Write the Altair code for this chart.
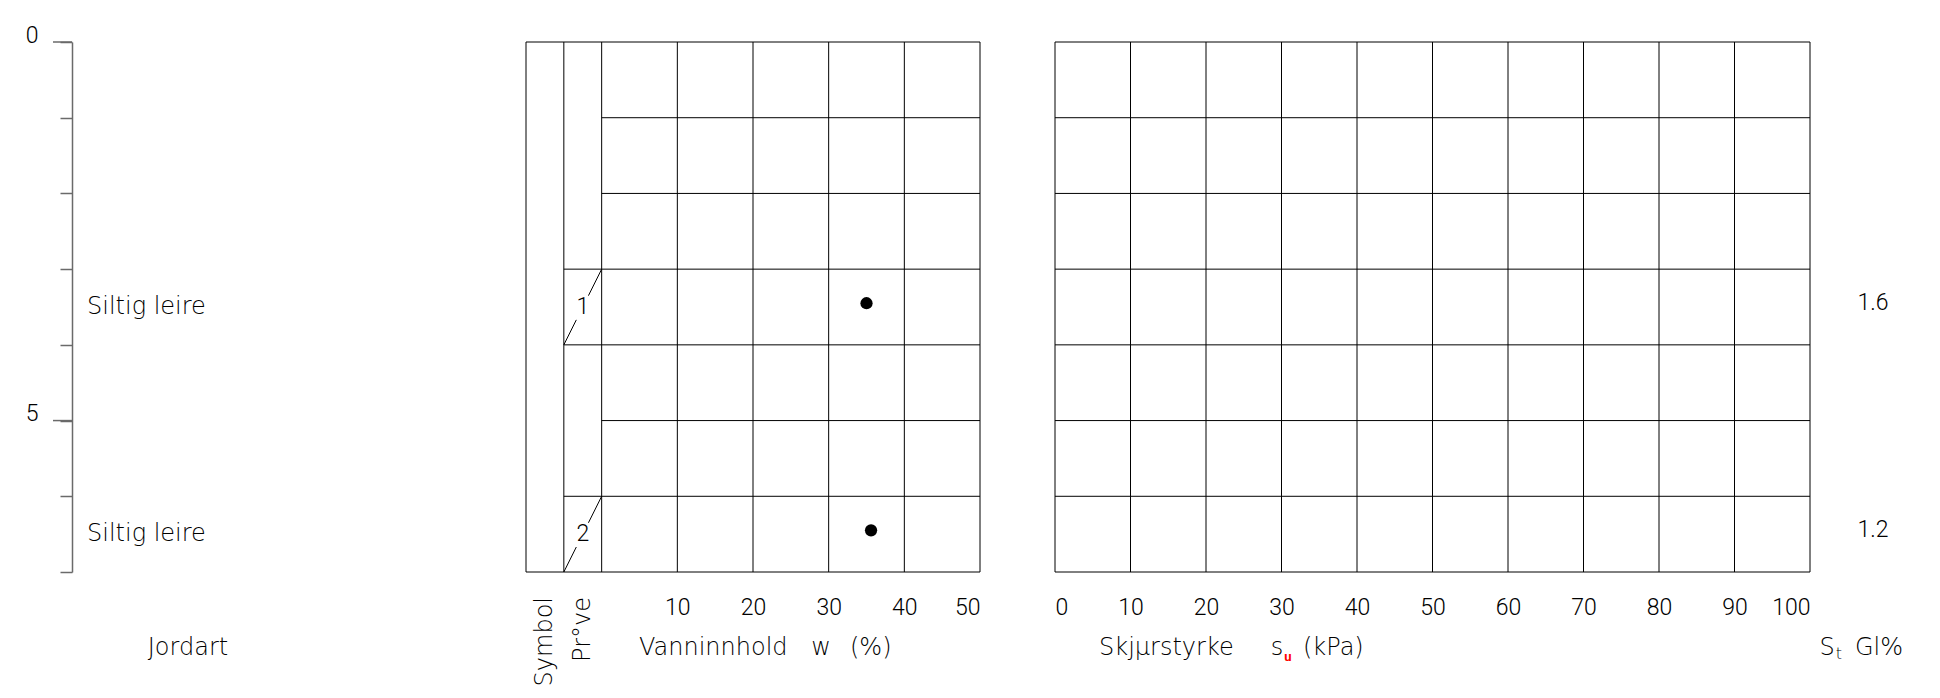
import altair as alt
import pandas as pd

# ---------------- data ----------------
depth_min, depth_max = 0, 7
depth_ticks = [0, 1, 2, 3, 4, 5, 6, 7]
depth_major = [0, 5]

soil_depth = [3.5, 6.5]
soil_names = ["Siltig leire", "Siltig leire"]

w_grid_x = [-10, -5, 0, 10, 20, 30, 40, 50]
w_tick_values = [10, 20, 30, 40, 50]
w_row_depth = [0, 1, 2, 3, 4, 5, 6, 7]
w_row_start = [-10, 0, 0, -5, -5, 0, -5, -10]
w_row_end = [50, 50, 50, 50, 50, 50, 50, 50]
column_names = ["Symbol", "Pr°ve"]
column_left = [-10, -5]
column_right = [-5, 0]

sample_no = ["1", "2"]
sample_top = [3, 6]
sample_bottom = [4, 7]
sample_depth = [3.45, 6.45]
water_content = [35.0, 35.6]
sensitivity = ["1.6", "1.2"]

su_grid_x = [0, 10, 20, 30, 40, 50, 60, 70, 80, 90, 100]
su_tick_values = [0, 10, 20, 30, 40, 50, 60, 70, 80, 90, 100]
su_row_depth = [0, 1, 2, 3, 4, 5, 6, 7]

# ---------------- style / layout ----------------
FONT = "Roboto"
TFONT = "DejaVu Sans"
FS = 23
TFS = 24
TXT = "#000000"
AX = "#6a6a6a"
LINE = "#000000"
W1, W2, W3, H, GAP = 379, 454, 755, 530, 75
TITLE_Y = H + 76

ys = alt.Scale(domain=[depth_min, depth_max], reverse=True, nice=False, zero=False)


def label(text, x, y, **kw):
    return alt.Chart(pd.DataFrame({"t": [text]})).mark_text(**kw).encode(
        x=alt.value(x), y=alt.value(y), text="t:N"
    )


# ---------------- panel 1: depth axis + soil ----------------
depth_axis = alt.Axis(
    values=depth_ticks, title=None, grid=False,
    domainColor=AX, domainWidth=1.5, tickColor=AX, tickWidth=1.5, tickSize=12,
    labelExpr="datum.value % 5 === 0 ? datum.label : ''",
    labelAlign="right", labelBaseline="alphabetic", labelPadding=22,
    labelFontSize=FS,
)
major_df = pd.DataFrame({"depth": depth_major})
soil_df = pd.DataFrame({"depth": soil_depth, "name": soil_names})

p1_major = alt.Chart(major_df).mark_rule(color=AX, strokeWidth=1.5).encode(
    x=alt.value(-19), x2=alt.value(0),
    y=alt.Y("depth:Q", scale=ys, axis=depth_axis),
)
p1_soil = alt.Chart(soil_df).mark_text(align="left", baseline="middle").encode(
    x=alt.value(15),
    y=alt.Y("depth:Q", scale=ys, axis=depth_axis),
    text="name:N",
)
panel1 = alt.layer(
    p1_major, p1_soil,
    label("Jordart", 116, TITLE_Y, align="center", baseline="middle"),
).properties(width=W1, height=H)

# ---------------- panel 2: water content ----------------
xs_w = alt.Scale(domain=[-10, 50], nice=False, zero=False)
axis_w = alt.Axis(values=w_tick_values, title=None, ticks=False, tickSize=0,
                  domain=False, grid=False, labelPadding=24, labelFontSize=FS)


def xw():
    return alt.X("x:Q", scale=xs_w, axis=axis_w)


wv_df = pd.DataFrame({"x": w_grid_x, "top": depth_min, "bottom": depth_max})
wh_df = pd.DataFrame({"x": w_row_start, "x2": w_row_end, "depth": w_row_depth})

seg_rows = []
for no, top, bot in zip(sample_no, sample_top, sample_bottom):
    x0, x1 = column_left[1], column_right[1]
    for t0, t1 in [(0.0, 0.33), (0.65, 1.0)]:
        seg_rows.append({
            "x": x0 + (x1 - x0) * t0, "x2": x0 + (x1 - x0) * t1,
            "y": bot - (bot - top) * t0, "y2": bot - (bot - top) * t1,
        })
seg_df = pd.DataFrame(seg_rows)
snum_df = pd.DataFrame({
    "x": [(column_left[1] + column_right[1]) / 2] * len(sample_no),
    "depth": [(a + b) / 2 for a, b in zip(sample_top, sample_bottom)],
    "no": sample_no,
})
pts_df = pd.DataFrame({"x": water_content, "depth": sample_depth})
col_df = pd.DataFrame({
    "x": [(a + b) / 2 for a, b in zip(column_left, column_right)],
    "name": column_names,
})

p2_v = alt.Chart(wv_df).mark_rule(color=LINE, strokeWidth=1).encode(
    x=xw(), y=alt.Y("top:Q", scale=ys, axis=None), y2="bottom:Q")
p2_h = alt.Chart(wh_df).mark_rule(color=LINE, strokeWidth=1).encode(
    x=xw(), x2="x2:Q", y=alt.Y("depth:Q", scale=ys, axis=None))
p2_seg = alt.Chart(seg_df).mark_rule(color=LINE, strokeWidth=1).encode(
    x=xw(), x2="x2:Q", y=alt.Y("y:Q", scale=ys, axis=None), y2="y2:Q")
p2_num = alt.Chart(snum_df).mark_text(align="center", baseline="middle", font=FONT,
                                      fontSize=FS, fontWeight=300).encode(
    x=xw(), y=alt.Y("depth:Q", scale=ys, axis=None), text="no:N")
p2_pts = alt.Chart(pts_df).mark_circle(size=150, color="#000000", opacity=1).encode(
    x=xw(), y=alt.Y("depth:Q", scale=ys, axis=None))
p2_cols = alt.Chart(col_df).mark_text(angle=270, align="right", baseline="middle").encode(
    x=xw(), y=alt.value(H + 25), text="name:N")

panel2 = alt.layer(
    p2_v, p2_h, p2_seg, p2_num, p2_pts, p2_cols,
    label("Vanninnhold", 113, TITLE_Y, align="left", baseline="middle"),
    label("w", 295, TITLE_Y, align="center", baseline="middle"),
    label("(%)", 324, TITLE_Y, align="left", baseline="middle"),
).properties(width=W2, height=H)

# ---------------- panel 3: shear strength ----------------
xs_s = alt.Scale(domain=[0, 100], nice=False, zero=False)
axis_s = alt.Axis(values=su_tick_values, title=None, ticks=False, tickSize=0,
                  domain=False, grid=False, labelPadding=24, labelFontSize=FS)


def xsu():
    return alt.X("x:Q", scale=xs_s, axis=axis_s)


sv_df = pd.DataFrame({"x": su_grid_x, "top": depth_min, "bottom": depth_max})
sh_df = pd.DataFrame({"x": su_grid_x[0], "x2": su_grid_x[-1], "depth": su_row_depth})
st_df = pd.DataFrame({"depth": sample_depth, "st": sensitivity})

p3_v = alt.Chart(sv_df).mark_rule(color=LINE, strokeWidth=1).encode(
    x=xsu(), y=alt.Y("top:Q", scale=ys, axis=None), y2="bottom:Q")
p3_h = alt.Chart(sh_df).mark_rule(color=LINE, strokeWidth=1).encode(
    x=xsu(), x2="x2:Q", y=alt.Y("depth:Q", scale=ys, axis=None))
p3_st = alt.Chart(st_df).mark_text(align="center", baseline="middle", font=FONT,
                                   fontSize=FS, fontWeight=300).encode(
    x=alt.value(818), y=alt.Y("depth:Q", scale=ys, axis=None), text="st:N")

panel3 = alt.layer(
    p3_v, p3_h, p3_st,
    label("Skjµrstyrke", 44, TITLE_Y, align="left", baseline="middle"),
    label("s", 222, TITLE_Y, align="center", baseline="middle"),
    label("u", 233, TITLE_Y + 9, align="center", baseline="middle",
          fontSize=13, fontWeight="bold", color="#ff0000", font=FONT),
    label("(kPa)", 248, TITLE_Y, align="left", baseline="middle"),
    label("S", 772, TITLE_Y, align="center", baseline="middle"),
    label("t", 784, TITLE_Y + 6, align="center", baseline="middle", fontSize=16),
    label("Gl%", 800, TITLE_Y, align="left", baseline="middle"),
).properties(width=W3, height=H)

chart = alt.hconcat(
    panel1, panel2, panel3, spacing=GAP, bounds="flush",
    padding={"left": 17, "top": 16, "right": 0, "bottom": 5},
).configure_view(stroke=None).configure_axis(
    labelFont=FONT, labelFontSize=FS, labelFontWeight=300, labelColor=TXT
).configure_text(font=TFONT, fontSize=TFS, fontWeight=200, color=TXT)

chart.save("out.html", embed_options={"renderer": "svg", "actions": False})
